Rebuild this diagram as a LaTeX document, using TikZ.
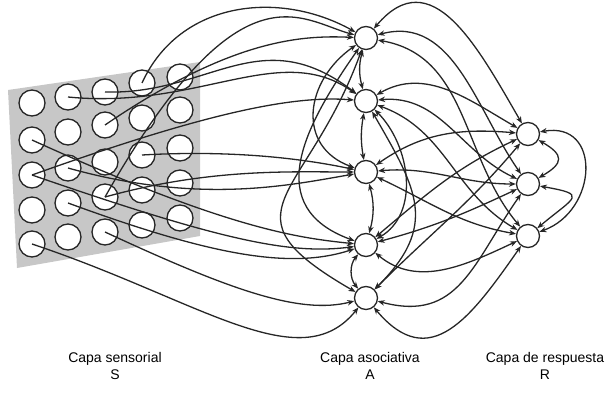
\documentclass[tikz,border=0pt]{standalone}
\usepackage{fontspec}
\setmainfont{Liberation Sans}
\usetikzlibrary{arrows.meta}
\tikzset{
	cell/.style={draw=black!85, circle, minimum size=26pt, inner sep=0pt, fill=white, line width=1.3pt},
	unit/.style={draw=black!85, circle, minimum size=23pt, inner sep=0pt, fill=white, line width=1.3pt},
	wire/.style={->, line width=1.3pt, draw=black!85},
	link/.style={<->, line width=1.3pt, draw=black!85},
	layer/.style={align=center, font=\fontsize{14}{17.5}\selectfont}
}

\begin{document}
\begin{tikzpicture}[x=1pt, y=1pt, >={Stealth[length=7pt, width=5.5pt]}]
	\useasboundingbox (0,0) rectangle (613,400);
	\fill[black!22] (8,310) -- (200,338) -- (200,164) -- (17,132) -- cycle;

	% sensory units, s<column><row>
	\foreach \n/\x/\y in {11/32/297, 12/32/260, 13/32/225, 14/32/190, 15/32/156,
		21/68/303, 22/68/268, 23/68/232, 24/68/197, 25/68/163,
		31/105/308, 32/105/275, 33/105/238, 34/105/203, 35/105/168,
		41/142/317, 42/142/282, 43/142/245, 44/142/210, 45/142/175,
		51/180/323, 52/180/290, 53/180/252, 54/180/217, 55/180/182}
		\node[cell] (s\n) at (\x,\y) {};

	% association and response units
	\node[unit] (a1) at (366,362) {};
	\node[unit] (a2) at (366,299) {};
	\node[unit] (a3) at (366,228) {};
	\node[unit] (a4) at (366,155) {};
	\node[unit] (a5) at (366,102) {};
	\node[unit] (r1) at (528,266) {};
	\node[unit] (r2) at (528,216) {};
	\node[unit] (r3) at (528,164) {};

	\node[layer] (ls) at (115,34) {Capa sensorial\\S};
	\node[layer] (la) at (370,34) {Capa asociativa\\A};
	\node[layer] (lr) at (545,34) {Capa de respuesta\\R};

	% S -> A
	\draw[wire] (s41.center) .. controls (180,400) and (280,410) .. (a1);
	\draw[wire] (s34.center) .. controls (240,440) and (300,380) .. (a1);
	\draw[wire] (s32.center) .. controls (230,360) and (300,365) .. (a1);
	\draw[wire] (s31.center) .. controls (210,305) and (260,380) .. (a2);
	\draw[wire] (s21.center) .. controls (200,290) and (280,360) .. (a2);
	\draw[wire] (s13.center) .. controls (200,285) and (290,305) .. (a2);
	\draw[wire] (s43.center) .. controls (230,250) and (300,242) .. (a3);
	\draw[wire] (s34.center) .. controls (210,232) and (290,228) .. (a3);
	\draw[wire] (s23.center) .. controls (200,195) and (290,215) .. (a3);
	\draw[wire] (s12.center) .. controls (230,170) and (300,162) .. (a4);
	\draw[wire] (s13.center) .. controls (220,160) and (290,145) .. (a4);
	\draw[wire] (s24.center) .. controls (210,145) and (290,130) .. (a4);
	\draw[wire] (s35.center) .. controls (230,110) and (300,85) .. (a5);
	\draw[wire] (s15.center) .. controls (200,100) and (300,20) .. (a5);

	% A <-> A
	\draw[link] (a1) to[bend right=15] (a2);
	\draw[link] (a2) to[bend right=10] (a3);
	\draw[link] (a3) to[bend left=15] (a4);
	\draw[link] (a4) to[bend right=40] (a5);
	\draw[link] (a1) to[out=215, in=160, looseness=1.3] (a3);
	\draw[link] (a1) to[out=235, in=160, looseness=1.3] (a4);
	\draw[link] (a1) to[out=250, in=150, looseness=1.7] (a5);
	\draw[link] (a2) to[out=-45, in=30] (a4);
	\draw[link] (a2) to[out=-60, in=45, looseness=1.3] (a5);

	% A <-> R
	\draw[link] (a1) to[out=50, in=120, looseness=1.3] (r1);
	\draw[link] (a1) to[out=15, in=125] (r2);
	\draw[link] (a1) to[out=-10, in=130] (r3);
	\draw[link] (a2) to[out=30, in=150] (r1);
	\draw[link] (a2) to[out=5, in=155] (r2);
	\draw[link] (a2) to[out=-20, in=150] (r3);
	\draw[link] (a3) to[out=35, in=175] (r1);
	\draw[link] (a3) to[out=5, in=180] (r2);
	\draw[link] (a3) to[out=-25, in=170] (r3);
	\draw[link] (a4) to[out=40, in=205] (r1);
	\draw[link] (a4) to[out=15, in=205] (r2);
	\draw[link] (a4) to[out=-40, in=205] (r3);
	\draw[link] (a5) to[out=45, in=230] (r1);
	\draw[link] (a5) to[out=-15, in=235, looseness=1.2] (r2);
	\draw[link] (a5) to[out=-50, in=235, looseness=1.4] (r3);

	% R <-> R
	\draw[link] (r1) to[out=-30, in=30, looseness=2] (r2);
	\draw[link] (r1) to[out=10, in=20, looseness=1.6] (r3);
	\draw[link] (r2) to[out=-10, in=40, looseness=3] (r3);
\end{tikzpicture}
\end{document}
